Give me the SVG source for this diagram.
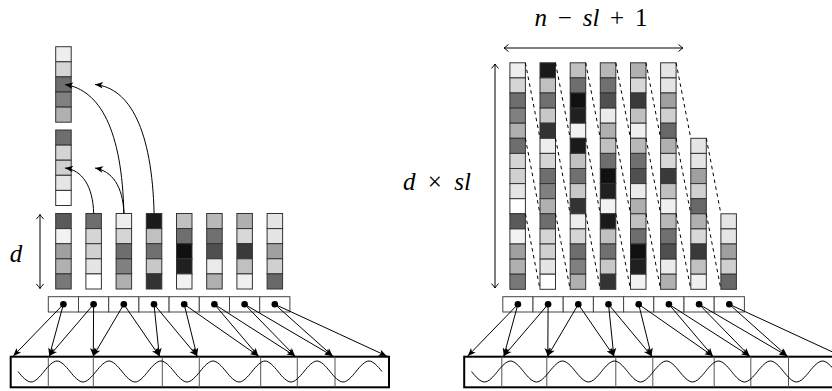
<svg xmlns="http://www.w3.org/2000/svg" xmlns:xlink="http://www.w3.org/1999/xlink" width="832" height="391" viewBox="0 0 832 391">
<style>
.cell{stroke:#333;stroke-width:1}
.tok{fill:#fff;stroke:#444;stroke-width:1}
.dot{fill:#000}
.ar{stroke:#000;stroke-width:1;fill:none;marker-end:url(#stl)}
.cv{stroke:#000;stroke-width:1;fill:none;marker-end:url(#stl)}
.dbl{stroke:#000;stroke-width:1;fill:none;marker-end:url(#to);marker-start:url(#to)}
.dash{stroke:#000;stroke-width:1;stroke-dasharray:3.5 3.5;fill:none}
.wbox{fill:none;stroke:#000;stroke-width:2}
.div{stroke:#555;stroke-width:1}
.wave{fill:none;stroke:#000;stroke-width:1}
.m{font-family:"Liberation Serif","DejaVu Serif",serif;font-size:25px;fill:#000}
.i{font-style:italic}
</style>
<defs>
<marker id="stl" viewBox="-9 -5 10 10" markerWidth="10" markerHeight="10" refX="0" refY="0" orient="auto" markerUnits="userSpaceOnUse"><path d="M0,0 L-8,-3.3 L-6,0 L-8,3.3 Z" fill="#000"/></marker>
<marker id="to" viewBox="-6 -5 7 10" markerWidth="7" markerHeight="10" refX="0" refY="0" orient="auto-start-reverse" markerUnits="userSpaceOnUse"><path d="M-4.5,-3.6 Q-1.5,-0.8 0,0 Q-1.5,0.8 -4.5,3.6" fill="none" stroke="#000" stroke-width="1"/></marker>
<g id="c0"><rect class="cell" x="0" y="0" width="15.5" height="15.1" fill="#5a5a5a"/><rect class="cell" x="0" y="15.1" width="15.5" height="15.1" fill="#f2f2f2"/><rect class="cell" x="0" y="30.2" width="15.5" height="15.1" fill="#a0a0a0"/><rect class="cell" x="0" y="45.3" width="15.5" height="15.1" fill="#b0b0b0"/><rect class="cell" x="0" y="60.4" width="15.5" height="15.1" fill="#787878"/></g>
<g id="c1"><rect class="cell" x="0" y="0" width="15.5" height="15.1" fill="#6e6e6e"/><rect class="cell" x="0" y="15.1" width="15.5" height="15.1" fill="#d5d5d5"/><rect class="cell" x="0" y="30.2" width="15.5" height="15.1" fill="#d0d0d0"/><rect class="cell" x="0" y="45.3" width="15.5" height="15.1" fill="#e5e5e5"/><rect class="cell" x="0" y="60.4" width="15.5" height="15.1" fill="#ffffff"/></g>
<g id="c2"><rect class="cell" x="0" y="0" width="15.5" height="15.1" fill="#eeeeee"/><rect class="cell" x="0" y="15.1" width="15.5" height="15.1" fill="#d5d5d5"/><rect class="cell" x="0" y="30.2" width="15.5" height="15.1" fill="#6e6e6e"/><rect class="cell" x="0" y="45.3" width="15.5" height="15.1" fill="#808080"/><rect class="cell" x="0" y="60.4" width="15.5" height="15.1" fill="#b0b0b0"/></g>
<g id="c3"><rect class="cell" x="0" y="0" width="15.5" height="15.1" fill="#1a1a1a"/><rect class="cell" x="0" y="15.1" width="15.5" height="15.1" fill="#c0c0c0"/><rect class="cell" x="0" y="30.2" width="15.5" height="15.1" fill="#707070"/><rect class="cell" x="0" y="45.3" width="15.5" height="15.1" fill="#c8c8c8"/><rect class="cell" x="0" y="60.4" width="15.5" height="15.1" fill="#333333"/></g>
<g id="c4"><rect class="cell" x="0" y="0" width="15.5" height="15.1" fill="#c0c0c0"/><rect class="cell" x="0" y="15.1" width="15.5" height="15.1" fill="#6e6e6e"/><rect class="cell" x="0" y="30.2" width="15.5" height="15.1" fill="#101010"/><rect class="cell" x="0" y="45.3" width="15.5" height="15.1" fill="#202020"/><rect class="cell" x="0" y="60.4" width="15.5" height="15.1" fill="#f2f2f2"/></g>
<g id="c5"><rect class="cell" x="0" y="0" width="15.5" height="15.1" fill="#b8b8b8"/><rect class="cell" x="0" y="15.1" width="15.5" height="15.1" fill="#707070"/><rect class="cell" x="0" y="30.2" width="15.5" height="15.1" fill="#505050"/><rect class="cell" x="0" y="45.3" width="15.5" height="15.1" fill="#ebebeb"/><rect class="cell" x="0" y="60.4" width="15.5" height="15.1" fill="#b0b0b0"/></g>
<g id="c6"><rect class="cell" x="0" y="0" width="15.5" height="15.1" fill="#b0b0b0"/><rect class="cell" x="0" y="15.1" width="15.5" height="15.1" fill="#d8d8d8"/><rect class="cell" x="0" y="30.2" width="15.5" height="15.1" fill="#3a3a3a"/><rect class="cell" x="0" y="45.3" width="15.5" height="15.1" fill="#c0c0c0"/><rect class="cell" x="0" y="60.4" width="15.5" height="15.1" fill="#f0f0f0"/></g>
<g id="c7"><rect class="cell" x="0" y="0" width="15.5" height="15.1" fill="#e5e5e5"/><rect class="cell" x="0" y="15.1" width="15.5" height="15.1" fill="#e5e5e5"/><rect class="cell" x="0" y="30.2" width="15.5" height="15.1" fill="#a0a0a0"/><rect class="cell" x="0" y="45.3" width="15.5" height="15.1" fill="#d0d0d0"/><rect class="cell" x="0" y="60.4" width="15.5" height="15.1" fill="#686868"/></g>
<g id="tokrow">
<rect class="tok" x="48.3" y="296.7" width="30.2" height="15.3"/><rect class="tok" x="78.5" y="296.7" width="30.2" height="15.3"/><rect class="tok" x="108.7" y="296.7" width="30.2" height="15.3"/><rect class="tok" x="138.9" y="296.7" width="30.2" height="15.3"/><rect class="tok" x="169.1" y="296.7" width="30.2" height="15.3"/><rect class="tok" x="199.3" y="296.7" width="30.2" height="15.3"/><rect class="tok" x="229.5" y="296.7" width="30.2" height="15.3"/><rect class="tok" x="259.7" y="296.7" width="30.2" height="15.3"/>
<circle class="dot" cx="63.4" cy="304.3" r="3.3"/><circle class="dot" cx="93.6" cy="304.3" r="3.3"/><circle class="dot" cx="123.8" cy="304.3" r="3.3"/><circle class="dot" cx="154" cy="304.3" r="3.3"/><circle class="dot" cx="184.2" cy="304.3" r="3.3"/><circle class="dot" cx="214.4" cy="304.3" r="3.3"/><circle class="dot" cx="244.6" cy="304.3" r="3.3"/><circle class="dot" cx="274.8" cy="304.3" r="3.3"/>
</g>
<g id="wavebox">
<rect class="wbox" x="10.7" y="356.7" width="378.3" height="30.6"/>
<line class="div" x1="48.3" y1="356.7" x2="48.3" y2="387.3"/><line class="div" x1="93.3" y1="356.7" x2="93.3" y2="387.3"/><line class="div" x1="162.3" y1="356.7" x2="162.3" y2="387.3"/><line class="div" x1="199.3" y1="356.7" x2="199.3" y2="387.3"/><line class="div" x1="260.7" y1="356.7" x2="260.7" y2="387.3"/><line class="div" x1="297.3" y1="356.7" x2="297.3" y2="387.3"/><line class="div" x1="335" y1="356.7" x2="335" y2="387.3"/>
<path class="wave" d="M18,371.5 c4.24,5.38 9.03,10.5 13,10.5 s8.76,-5.12 13,-10.5 s9.03,-10.5 13,-10.5 s8.76,5.12 13,10.5 s9.03,10.5 13,10.5 s8.76,-5.12 13,-10.5 s9.03,-10.5 13,-10.5 s8.76,5.12 13,10.5 s9.03,10.5 13,10.5 s8.76,-5.12 13,-10.5 s9.03,-10.5 13,-10.5 s8.76,5.12 13,10.5 s9.03,10.5 13,10.5 s8.76,-5.12 13,-10.5 s9.03,-10.5 13,-10.5 s8.76,5.12 13,10.5 s9.03,10.5 13,10.5 s8.76,-5.12 13,-10.5 s9.03,-10.5 13,-10.5 s8.76,5.12 13,10.5 s9.03,10.5 13,10.5 s8.76,-5.12 13,-10.5 s9.03,-10.5 13,-10.5 s8.76,5.12 13,10.5 s9.03,10.5 13,10.5 s8.76,-5.12 13,-10.5 s9.03,-10.5 13,-10.5 s8.76,5.12 13,10.5"/>
</g>
<g id="tokarrows">
<line class="ar" x1="63.4" y1="304.3" x2="13.3" y2="356"/><line class="ar" x1="63.4" y1="304.3" x2="49.3" y2="356"/>
<line class="ar" x1="93.6" y1="304.3" x2="49.3" y2="356"/><line class="ar" x1="93.6" y1="304.3" x2="93.3" y2="356"/>
<line class="ar" x1="123.8" y1="304.3" x2="93.3" y2="356"/><line class="ar" x1="123.8" y1="304.3" x2="159.3" y2="356"/>
<line class="ar" x1="154" y1="304.3" x2="159.3" y2="356"/><line class="ar" x1="154" y1="304.3" x2="197" y2="356"/>
<line class="ar" x1="184.2" y1="304.3" x2="197" y2="356"/><line class="ar" x1="184.2" y1="304.3" x2="258.3" y2="356"/>
<line class="ar" x1="214.4" y1="304.3" x2="258.3" y2="356"/><line class="ar" x1="214.4" y1="304.3" x2="295" y2="356"/>
<line class="ar" x1="244.6" y1="304.3" x2="295" y2="356"/><line class="ar" x1="244.6" y1="304.3" x2="332.7" y2="356"/>
<line class="ar" x1="274.8" y1="304.3" x2="332.7" y2="356"/><line class="ar" x1="274.8" y1="304.3" x2="386.7" y2="356"/>
</g>
</defs>

<!-- LEFT PANEL -->
<g id="left-stack-upper"><use xlink:href="#c2" x="55.7" y="46.7"/></g>
<g id="left-stack-lower"><use xlink:href="#c1" x="55.7" y="130"/></g>
<g id="left-col-0"><use xlink:href="#c0" x="55.7" y="213.5"/></g>
<g id="left-col-1"><use xlink:href="#c1" x="85.9" y="213.5"/></g>
<g id="left-col-2"><use xlink:href="#c2" x="116.1" y="213.5"/></g>
<g id="left-col-3"><use xlink:href="#c3" x="146.3" y="213.5"/></g>
<g id="left-col-4"><use xlink:href="#c4" x="176.5" y="213.5"/></g>
<g id="left-col-5"><use xlink:href="#c5" x="206.7" y="213.5"/></g>
<g id="left-col-6"><use xlink:href="#c6" x="236.9" y="213.5"/></g>
<g id="left-col-7"><use xlink:href="#c7" x="267.1" y="213.5"/></g>
<g id="left-tokens"><use xlink:href="#tokrow"/></g>
<g id="left-wave"><use xlink:href="#wavebox"/></g>
<g id="left-connectors">
<use xlink:href="#tokarrows"/>
<path class="cv" d="M93.7,213.5 C93,186 82,170 65,168"/>
<path class="cv" d="M123.9,213.5 C123,186 112,171 95,168"/>
<path class="cv" d="M123.9,213.5 C122,130 100,90 65,84.5"/>
<path class="cv" d="M154.1,213.5 C152,130 130,88 95,84.5"/>
<line class="dbl" x1="40" y1="214.5" x2="40" y2="288.5"/>
</g>
<g id="label-d"><text class="m i" x="16" y="262" text-anchor="middle">d</text></g>

<!-- RIGHT PANEL -->
<g id="right-col-0"><use xlink:href="#c2" x="509.9" y="62.8"/><use xlink:href="#c1" x="509.9" y="138.3"/><use xlink:href="#c0" x="509.9" y="213.8"/></g>
<g id="right-col-1"><use xlink:href="#c3" x="540" y="62.8"/><use xlink:href="#c2" x="540" y="138.3"/><use xlink:href="#c1" x="540" y="213.8"/></g>
<g id="right-col-2"><use xlink:href="#c4" x="570.2" y="62.8"/><use xlink:href="#c3" x="570.2" y="138.3"/><use xlink:href="#c2" x="570.2" y="213.8"/></g>
<g id="right-col-3"><use xlink:href="#c5" x="600.3" y="62.8"/><use xlink:href="#c4" x="600.3" y="138.3"/><use xlink:href="#c3" x="600.3" y="213.8"/></g>
<g id="right-col-4"><use xlink:href="#c6" x="630.5" y="62.8"/><use xlink:href="#c5" x="630.5" y="138.3"/><use xlink:href="#c4" x="630.5" y="213.8"/></g>
<g id="right-col-5"><use xlink:href="#c7" x="660.6" y="62.8"/><use xlink:href="#c6" x="660.6" y="138.3"/><use xlink:href="#c5" x="660.6" y="213.8"/></g>
<g id="right-col-6"><use xlink:href="#c7" x="690.8" y="138.3"/><use xlink:href="#c6" x="690.8" y="213.8"/></g>
<g id="right-col-7"><use xlink:href="#c7" x="720.9" y="213.8"/></g>
<g id="right-tokens" transform="translate(454.5,0)"><use xlink:href="#tokrow"/></g>
<g id="right-wave" transform="translate(453.5,0)"><use xlink:href="#wavebox"/></g>
<g id="right-connectors">
<g transform="translate(454.5,0)"><use xlink:href="#tokarrows"/></g>
<path class="dash" d="M525.4,62.8 L540,138.3 M525.4,138.3 L540,213.8 M525.4,213.8 L540,289.3
M555.5,62.8 L570.2,138.3 M555.5,138.3 L570.2,213.8 M555.5,213.8 L570.2,289.3
M585.7,62.8 L600.3,138.3 M585.7,138.3 L600.3,213.8 M585.7,213.8 L600.3,289.3
M615.8,62.8 L630.5,138.3 M615.8,138.3 L630.5,213.8 M615.8,213.8 L630.5,289.3
M646,62.8 L660.6,138.3 M646,138.3 L660.6,213.8 M646,213.8 L660.6,289.3
M676.1,62.8 L690.8,138.3 M676.1,138.3 L690.8,213.8 M676.1,213.8 L690.8,289.3
M706.3,138.3 L720.9,213.8 M706.3,213.8 L720.9,289.3"/>
<line class="dbl" x1="495" y1="64" x2="495" y2="288"/>
<line class="dbl" x1="504" y1="48" x2="683" y2="48"/>
</g>
<g id="label-dsl"><text class="m" x="437" y="190" text-anchor="middle" word-spacing="6"><tspan class="i">d</tspan> × <tspan class="i">sl</tspan></text></g>
<g id="label-nsl"><text class="m" x="591" y="26" text-anchor="middle" word-spacing="4.5"><tspan class="i">n</tspan> − <tspan class="i">sl</tspan> + 1</text></g>
</svg>
